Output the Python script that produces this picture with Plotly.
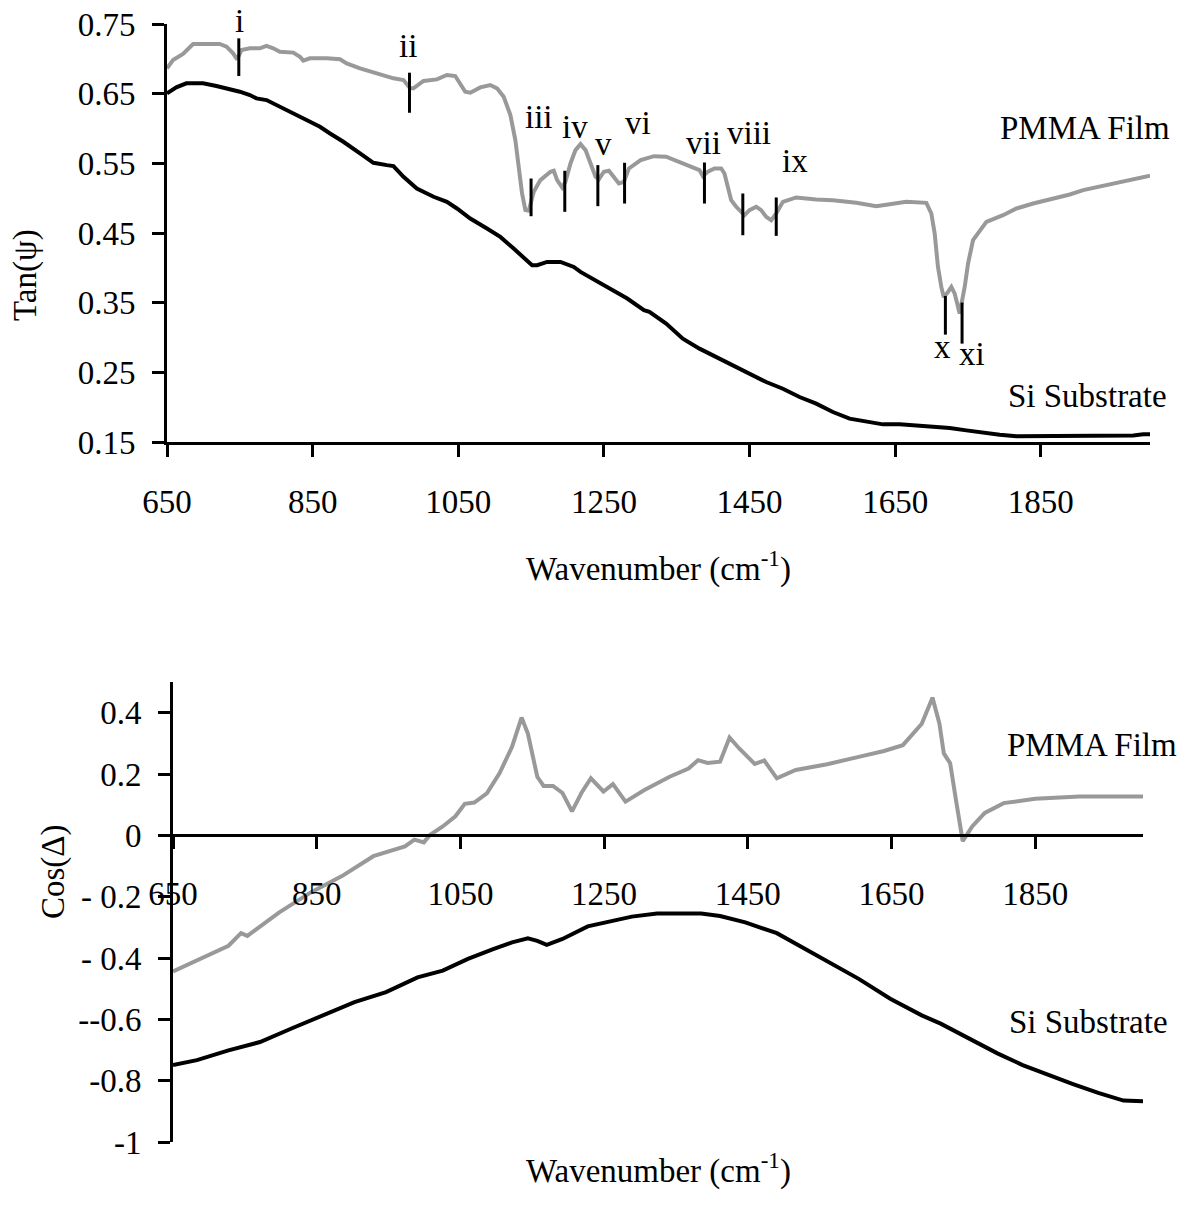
import plotly.graph_objects as go

# ---------------- data ----------------
# Top panel: Tan(psi)
tan_pmma_wn = [650, 658.3, 672.0, 685.8, 722.5, 731.7, 740.8, 746.3, 752.3, 763.8, 777.5, 786.7, 795.9,
               805.0, 823.4, 832.6, 837.2, 846.3, 869.3, 887.6, 896.8, 915.1, 938.1, 961.0, 974.8, 983.9,
               988.5, 1002.3, 1020.6, 1034.4, 1045.9, 1052.8, 1059.6, 1066.5, 1080.3, 1094.0, 1103.2,
               1112.4, 1121.6, 1128.4, 1133.0, 1137.6, 1142.2, 1146.8, 1153.7, 1162.8, 1176.6, 1181.2,
               1185.8, 1192.7, 1197.2, 1204.1, 1211.0, 1217.9, 1224.8, 1231.7, 1238.5, 1243.1, 1250.0,
               1256.9, 1263.8, 1270.6, 1277.5, 1284.4, 1300.5, 1318.8, 1335.5, 1358.4, 1372.1, 1381.3,
               1385.9, 1392.7, 1401.9, 1411.1, 1415.6, 1420.2, 1424.8, 1431.7, 1443.1, 1450.0, 1459.2,
               1466.0, 1472.9, 1479.8, 1486.7, 1495.8, 1514.1, 1541.6, 1564.5, 1596.6, 1624.1, 1642.4,
               1665.3, 1692.8, 1699.7, 1704.3, 1708.8, 1713.4, 1716.7, 1722.6, 1727.2, 1731.8, 1738.6,
               1745.5, 1750.1, 1757.0, 1766.1, 1775.3, 1798.2, 1816.6, 1839.5, 1862.4, 1889.9, 1908.2,
               1931.1, 1954.0, 1977.0, 2000]
tan_pmma = [0.6864, 0.6983, 0.7070, 0.7213, 0.7213, 0.7175, 0.7079, 0.6993, 0.7127, 0.7151, 0.7151,
             0.7185, 0.7151, 0.7103, 0.7089, 0.7031, 0.6974, 0.7007, 0.7007, 0.6993, 0.6935, 0.6864,
             0.6792, 0.6720, 0.6696, 0.6576, 0.6576, 0.6682, 0.6705, 0.6768, 0.6753, 0.6648, 0.6528,
             0.6514, 0.6590, 0.6624, 0.6576, 0.6456, 0.6193, 0.5834, 0.5451, 0.5068, 0.4828, 0.4819,
             0.5092, 0.5259, 0.5379, 0.5393, 0.5259, 0.5153, 0.5235, 0.5498, 0.5690, 0.5776, 0.5690,
             0.5498, 0.5307, 0.5269, 0.5379, 0.5393, 0.5307, 0.5211, 0.5235, 0.5427, 0.5546, 0.5603,
             0.5595, 0.5499, 0.5451, 0.5403, 0.5317, 0.5379, 0.5427, 0.5427, 0.5355, 0.5163, 0.4971,
             0.4876, 0.4756, 0.4828, 0.4876, 0.4828, 0.4732, 0.4684, 0.4780, 0.4948, 0.5010, 0.4981,
             0.4971, 0.4933, 0.4885, 0.4914, 0.4948, 0.4933, 0.4780, 0.4492, 0.4014, 0.3726, 0.3582,
             0.3654, 0.3726, 0.3630, 0.3343, 0.3726, 0.4062, 0.4397, 0.4540, 0.4660, 0.4756, 0.4852,
             0.4923, 0.4981, 0.5053, 0.5115, 0.5163, 0.5220, 0.5259, 0.5321]

tan_si_wn = [650, 662.8, 676.6, 699.5, 717.9, 731.7, 750.0, 763.8, 772.9, 786.7, 800.5, 814.2, 823.4,
             841.7, 860.1, 873.9, 892.2, 915.1, 933.5, 951.8, 961.0, 974.8, 993.1, 1016.1, 1034.4,
             1048.2, 1066.5, 1089.4, 1107.8, 1126.1, 1142.2, 1151.4, 1158.3, 1172.0, 1190.4, 1208.7,
             1217.9, 1236.2, 1259.2, 1282.1, 1305.0, 1312.5, 1335.5, 1358.4, 1381.3, 1404.2, 1427.1,
             1450.0, 1472.9, 1495.8, 1518.7, 1541.6, 1564.5, 1587.4, 1610.3, 1633.2, 1656.2, 1679.1,
             1702.0, 1724.9, 1747.8, 1770.7, 1793.6, 1816.6, 1862.4, 1908.2, 1954.0, 1977.0, 1990.7, 2000]
tan_si = [0.6504, 0.6590, 0.6648, 0.6648, 0.6609, 0.6576, 0.6528, 0.6480, 0.6432, 0.6408, 0.6336,
          0.6274, 0.6216, 0.6121, 0.6025, 0.5929, 0.5810, 0.5642, 0.5508, 0.5474, 0.5460, 0.5307,
          0.5139, 0.5020, 0.4948, 0.4852, 0.4708, 0.4565, 0.4444, 0.4277, 0.4133, 0.4037, 0.4037,
          0.4085, 0.4085, 0.4013, 0.3941, 0.3831, 0.3702, 0.3559, 0.3391, 0.3367, 0.3199, 0.2983,
          0.2840, 0.2720, 0.2601, 0.2481, 0.2361, 0.2265, 0.2146, 0.2050, 0.1930, 0.1835, 0.1787,
          0.1753, 0.1753, 0.1739, 0.1715, 0.1701, 0.1667, 0.1633, 0.1605, 0.1581, 0.1581, 0.1581,
          0.1581, 0.1595, 0.1610, 0.1610]

# Bottom panel: Cos(Delta)
cos_pmma_wn = [650, 683.3, 727.2, 744.7, 753.5, 797.4, 841.2, 885.1, 928.9, 972.8, 986.0, 999.1, 1007.9,
               1025.4, 1043.0, 1056.1, 1069.3, 1086.8, 1104.4, 1121.9, 1135.1, 1143.9, 1157.0, 1165.8,
               1178.9, 1192.1, 1205.3, 1218.4, 1231.6, 1249.1, 1262.3, 1279.8, 1306.1, 1341.2, 1367.5,
               1380.7, 1393.9, 1411.4, 1424.6, 1437.7, 1459.6, 1472.8, 1490.4, 1516.7, 1560.5, 1604.4,
               1639.5, 1665.8, 1692.1, 1707.0, 1716.7, 1722.8, 1731.6, 1740.4, 1749.1, 1762.3, 1779.8,
               1806.1, 1850.0, 1911.4, 2000]
cos_pmma = [-0.444, -0.408, -0.360, -0.319, -0.328, -0.252, -0.187, -0.133, -0.068, -0.036, -0.014,
            -0.023, 0.002, 0.029, 0.062, 0.103, 0.107, 0.137, 0.202, 0.289, 0.384, 0.332, 0.191, 0.161,
            0.161, 0.138, 0.078, 0.138, 0.186, 0.143, 0.167, 0.110, 0.148, 0.191, 0.218, 0.245, 0.236,
            0.240, 0.319, 0.284, 0.233, 0.244, 0.186, 0.213, 0.232, 0.256, 0.275, 0.294, 0.364, 0.449,
            0.364, 0.267, 0.235, 0.105, -0.019, 0.029, 0.073, 0.105, 0.119, 0.127, 0.127]

cos_si_wn = [650, 683.3, 727.2, 771.1, 814.9, 858.8, 902.6, 946.5, 990.4, 1025.4, 1060.5, 1095.6, 1121.9,
             1143.9, 1157.0, 1170.2, 1192.1, 1227.2, 1253.5, 1288.6, 1323.7, 1385.1, 1411.4, 1446.5,
             1490.4, 1534.2, 1569.3, 1604.4, 1648.2, 1692.1, 1718.4, 1762.3, 1797.4, 1832.5, 1867.5,
             1902.6, 1937.7, 1972.8, 2000]
cos_si = [-0.749, -0.733, -0.701, -0.674, -0.630, -0.587, -0.544, -0.511, -0.463, -0.441, -0.403,
          -0.371, -0.349, -0.336, -0.344, -0.357, -0.338, -0.297, -0.284, -0.265, -0.255, -0.255,
          -0.263, -0.284, -0.319, -0.376, -0.425, -0.468, -0.533, -0.587, -0.614, -0.668, -0.711,
          -0.749, -0.781, -0.811, -0.840, -0.865, -0.867]

# Peak markers (top panel)
peak_names = ["i", "ii", "iii", "iv", "v", "vi", "vii", "viii", "ix", "x", "xi"]
peak_wn = [748.6, 983.0, 1150.0, 1196.3, 1241.7, 1278.4, 1388.1, 1440.8, 1486.7, 1719.0, 1741.9]
peak_top = [0.7294, 0.6801, 0.5282, 0.5393, 0.5474, 0.5508, 0.5512, 0.5067, 0.5010, 0.3597, 0.3501]
peak_bottom = [0.6753, 0.6226, 0.4741, 0.4804, 0.4885, 0.4923, 0.4923, 0.4468, 0.4459, 0.3041, 0.2912]
label_wn = [749.4, 980.3, 1160.4, 1210.8, 1248.9, 1296.5, 1387.2, 1449.0, 1511.9, 1714.9, 1756.1]
label_tan = [0.7252, 0.6892, 0.5873, 0.5729, 0.5489, 0.5791, 0.5503, 0.5647, 0.5241, 0.2583, 0.2473]

x_ticks = [650, 850, 1050, 1250, 1450, 1650, 1850]
tan_ticks = [0.15, 0.25, 0.35, 0.45, 0.55, 0.65, 0.75]
tan_ticktext = ["0.15", "0.25", "0.35", "0.45", "0.55", "0.65", "0.75"]
cos_ticks = [0.4, 0.2, 0, -0.2, -0.4, -0.6, -0.8, -1]
cos_ticktext = ["0.4", "0.2", "0", "- 0.2", "- 0.4", "--0.6", "-0.8", "-1"]

# ---------------- figure ----------------
W, H = 1186, 1209
FONT = "Liberation Serif, Times New Roman, serif"
FS = 33
GRAY = "#999999"

def px_x(p):
    return p / W

def px_y(p):
    return 1 - p / H

fig = go.Figure()

fig.add_trace(go.Scatter(x=tan_pmma_wn, y=tan_pmma, mode="lines",
                         line=dict(color=GRAY, width=4), xaxis="x", yaxis="y", showlegend=False))
fig.add_trace(go.Scatter(x=tan_si_wn, y=tan_si, mode="lines",
                         line=dict(color="black", width=4), xaxis="x", yaxis="y", showlegend=False))

# peak marker segments
mx, my = [], []
for w, t, b in zip(peak_wn, peak_top, peak_bottom):
    mx += [w, w, None]
    my += [t, b, None]
fig.add_trace(go.Scatter(x=mx, y=my, mode="lines", line=dict(color="black", width=3),
                         xaxis="x", yaxis="y", showlegend=False))

fig.add_trace(go.Scatter(x=cos_pmma_wn, y=cos_pmma, mode="lines",
                         line=dict(color=GRAY, width=4), xaxis="x2", yaxis="y2", showlegend=False))
fig.add_trace(go.Scatter(x=cos_si_wn, y=cos_si, mode="lines",
                         line=dict(color="black", width=4), xaxis="x2", yaxis="y2", showlegend=False))

annotations = []
for name, w, t in zip(peak_names, label_wn, label_tan):
    annotations.append(dict(x=w, y=t, xref="x", yref="y", text=name, showarrow=False,
                            xanchor="center", yanchor="bottom", font=dict(size=FS)))

def label(text, x, y, xanchor="left", yanchor="bottom", angle=0):
    annotations.append(dict(x=px_x(x), y=px_y(y), xref="paper", yref="paper", text=text,
                            showarrow=False, xanchor=xanchor, yanchor=yanchor,
                            textangle=angle, font=dict(size=FS)))

label("PMMA Film", 998, 148)
label("Si Substrate", 1006, 416)
label("PMMA Film", 1005, 765)
label("Si Substrate", 1007, 1042)
label("Wavenumber (cm<sup>-1</sup>)", 658, 590, xanchor="center")
label("Wavenumber (cm<sup>-1</sup>)", 658, 1192, xanchor="center")
label("Tan(ψ)", 25, 275, xanchor="center", yanchor="middle", angle=-90)
label("Cos(Δ)", 53, 872, xanchor="center", yanchor="middle", angle=-90)

top_dom_y = [px_y(442), px_y(24)]
bot_dom_y = [px_y(1142), px_y(682)]
cos_range = [-1, 0.5]
zero_pos = bot_dom_y[0] + (0 - cos_range[0]) / (cos_range[1] - cos_range[0]) * (bot_dom_y[1] - bot_dom_y[0])

axis_common = dict(showline=True, linecolor="black", linewidth=3, ticks="outside", ticklen=12,
                   tickwidth=3, tickcolor="black", showgrid=False, zeroline=False, automargin=False,
                   tickfont=dict(size=FS, color="black", family=FONT))

fig.update_layout(
    width=W, height=H,
    margin=dict(l=0, r=0, t=0, b=0, pad=0, autoexpand=False),
    paper_bgcolor="white", plot_bgcolor="white",
    font=dict(family=FONT, size=FS, color="black"),
    xaxis=dict(domain=[px_x(167), px_x(1150)], range=[650, 2000], tickvals=x_ticks,
               anchor="y", ticklabelstandoff=16, **axis_common),
    yaxis=dict(domain=top_dom_y, range=[0.15, 0.75], tickvals=tan_ticks, ticktext=tan_ticktext,
               anchor="x", ticklabelstandoff=10, **axis_common),
    xaxis2=dict(domain=[px_x(173), px_x(1143)], range=[650, 2000], tickvals=x_ticks,
                anchor="free", position=zero_pos, ticklabelstandoff=16, **axis_common),
    yaxis2=dict(domain=bot_dom_y, range=cos_range, tickvals=cos_ticks, ticktext=cos_ticktext,
                anchor="x2", ticklabelstandoff=10, **axis_common),
    annotations=annotations,
)

fig.write_html("out.html")
